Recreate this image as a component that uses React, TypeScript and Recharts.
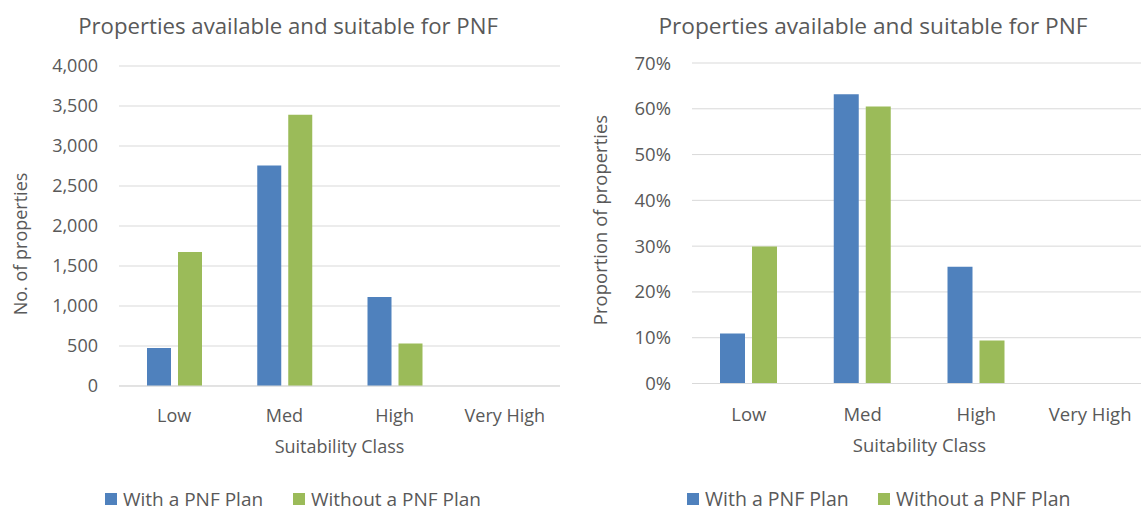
import React from 'react';
import { BarChart, Bar, XAxis, YAxis, CartesianGrid, Label } from 'recharts';

const classes = ['Low', 'Med', 'High', 'Very High'];

// number of properties in each suitability class
const withPlanCount = [475, 2755, 1112, 0];
const withoutPlanCount = [1675, 3390, 530, 0];

// share of properties in each suitability class (%)
const withPlanShare = [10.9, 63.2, 25.5, 0];
const withoutPlanShare = [29.9, 60.5, 9.4, 0];

const countTicks = [0, 500, 1000, 1500, 2000, 2500, 3000, 3500, 4000];
const shareTicks = [0, 10, 20, 30, 40, 50, 60, 70];

const seriesNames = ['With a PNF Plan', 'Without a PNF Plan'];
const seriesColors = ['#4f81bd', '#9bbb59'];

const chartTitle = 'Properties available and suitable for PNF';
const xTitle = 'Suitability Class';

const FONT = "'Segoe UI', 'Open Sans', sans-serif";
const INK = '#595959';
const GRID = '#d9d9d9';
const H = 510;
const AXIS_H = 60;

type Row = { name: string; withPlan: number; withoutPlan: number };

const toRows = (a: number[], b: number[]): Row[] =>
  classes.map((name, i) => ({ name, withPlan: a[i], withoutPlan: b[i] }));

type PanelProps = {
  left: number;
  width: number;
  plotLeft: number;
  plotTop: number;
  plotBottom: number;
  rows: Row[];
  ticks: number[];
  format: (v: number) => string;
  yTitle: string;
  yTitleX: number;
  yTitleY: number;
  xTitleY: number;
  barSize: number;
  fontSize: number;
  yTickGap: number;
  xTickGap: number;
};

function Panel(p: PanelProps) {
  const tickStyle = { fill: INK, fontSize: p.fontSize, fontFamily: FONT };
  return (
    <div style={{ position: 'absolute', left: p.left, top: 0 }}>
      <BarChart
        width={p.width}
        height={H}
        data={p.rows}
        margin={{ top: p.plotTop, right: 0, left: 0, bottom: H - p.plotBottom - AXIS_H }}
        barGap={7}
        barSize={p.barSize}
      >
        <CartesianGrid vertical={false} stroke={GRID} />
        <XAxis
          dataKey="name"
          height={AXIS_H}
          interval={0}
          tickLine={false}
          axisLine={{ stroke: GRID }}
          tickMargin={p.xTickGap}
          tick={tickStyle}
        >
          <Label
            content={({ viewBox }: any) => (
              <text
                x={viewBox.x + viewBox.width / 2}
                y={p.xTitleY}
                textAnchor="middle"
                fill={INK}
                fontSize={p.fontSize}
                fontFamily={FONT}
              >
                {xTitle}
              </text>
            )}
          />
        </XAxis>
        <YAxis
          width={p.plotLeft}
          domain={[0, p.ticks[p.ticks.length - 1]]}
          ticks={p.ticks}
          tickFormatter={p.format}
          tickLine={false}
          axisLine={false}
          tickMargin={p.yTickGap}
          tick={tickStyle}
        >
          <Label
            content={() => (
              <text
                x={p.yTitleX}
                y={p.yTitleY}
                transform={`rotate(-90 ${p.yTitleX} ${p.yTitleY})`}
                textAnchor="middle"
                dominantBaseline="central"
                fill={INK}
                fontSize={p.fontSize}
                fontFamily={FONT}
              >
                {p.yTitle}
              </text>
            )}
          />
        </YAxis>
        <Bar dataKey="withPlan" name={seriesNames[0]} fill={seriesColors[0]} isAnimationActive={false} />
        <Bar dataKey="withoutPlan" name={seriesNames[1]} fill={seriesColors[1]} isAnimationActive={false} />
      </BarChart>
    </div>
  );
}

// chart title and legend drawn over each panel
function Heading({ cx, titleSize, legendX, legendGap, fontSize }: {
  cx: number; titleSize: number; legendX: number; legendGap: number; fontSize: number;
}) {
  return (
    <g fontFamily={FONT} fill={INK}>
      <text x={cx} y={34} textAnchor="middle" fontSize={titleSize}>{chartTitle}</text>
      {seriesNames.map((name, i) => {
        const x = legendX + i * legendGap;
        return (
          <g key={name}>
            <rect x={x} y={493} width={12} height={12} fill={seriesColors[i]} />
            <text x={x + 18} y={505.5} fontSize={fontSize}>{name}</text>
          </g>
        );
      })}
    </g>
  );
}

export default function App() {
  const countRows = toRows(withPlanCount, withoutPlanCount);
  const shareRows = toRows(withPlanShare, withoutPlanShare);
  return (
    <div style={{ position: 'absolute', left: 0, top: 0, width: 1141, height: H, overflow: 'hidden', background: '#fff' }}>
      <Panel
        left={0}
        width={560}
        plotLeft={119}
        plotTop={66}
        plotBottom={386}
        rows={countRows}
        ticks={countTicks}
        format={(v) => v.toLocaleString('en-US')}
        yTitle="No. of properties"
        yTitleX={19.5}
        yTitleY={244}
        xTitleY={453}
        barSize={24}
        fontSize={18}
        yTickGap={15}
        xTickGap={17}
      />
      <Panel
        left={580}
        width={567}
        plotLeft={112}
        plotTop={63}
        plotBottom={383.5}
        rows={shareRows}
        ticks={shareTicks}
        format={(v) => `${v}%`}
        yTitle="Proportion of properties"
        yTitleX={19.5}
        yTitleY={220}
        xTitleY={452}
        barSize={25}
        fontSize={18.5}
        yTickGap={15}
        xTickGap={18.5}
      />
      <svg width={1141} height={H} style={{ position: 'absolute', left: 0, top: 0, pointerEvents: 'none' }}>
        <Heading cx={288} titleSize={22.2} legendX={105} legendGap={188} fontSize={19} />
        <Heading cx={873} titleSize={22.7} legendX={687} legendGap={191} fontSize={19.5} />
      </svg>
    </div>
  );
}
